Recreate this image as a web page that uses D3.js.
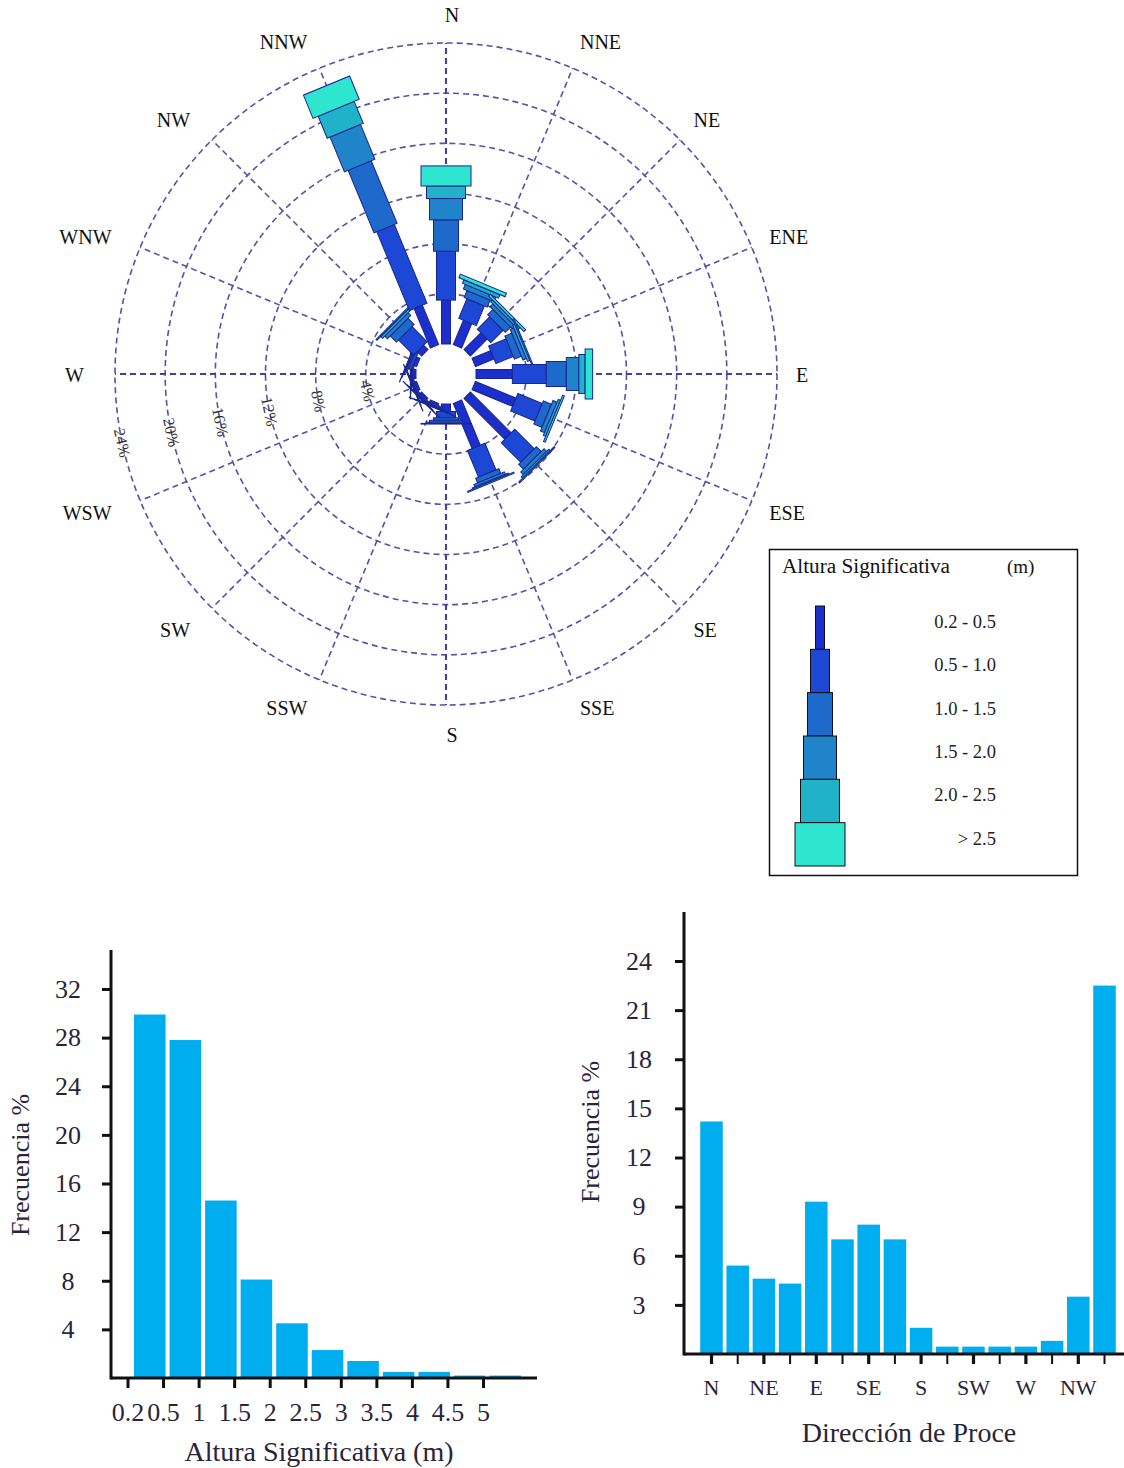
<!DOCTYPE html>
<html>
<head>
<meta charset="utf-8">
<script src="https://cdn.jsdelivr.net/npm/d3@7"></script>
<style>
  body { margin: 0; background: #fff; }
  svg { display: block; }
</style>
</head>
<body>
<svg id="chart" width="1124" height="1468"></svg>
<script>
// ---- data -------------------------------------------------------------
const directions = ["N","NNE","NE","ENE","E","ESE","SE","SSE","S","SSW","SW","WSW","W","WNW","NW","NNW"];
const heightClasses = ["0.2 - 0.5","0.5 - 1.0","1.0 - 1.5","1.5 - 2.0","2.0 - 2.5","> 2.5"];

// frequency (%) per direction for each significant-height class
const hs02to05 = [3.5, 2.1, 1.9, 1.6, 2.9, 3.5,  4.6,  3.9, 0.6,  0.17, 0.17, 0.17, 0.17, 0.30, 0.5, 3.4];
const hs05to10 = [3.9, 1.7, 1.4, 1.5, 2.7, 2.1,  2.2,  2.3, 0.5,  0.13, 0.13, 0.13, 0.13, 0.25, 1.7, 6.8];
const hs10to15 = [2.5, 0.6, 0.6, 0.6, 1.6, 0.7,  0.55, 0.4, 0.2,  0.07, 0.07, 0.07, 0.07, 0.12, 0.7, 5.4];
const hs15to20 = [1.7, 0.4, 0.3, 0.3, 1.0, 0.35, 0.3,  0.2, 0.15, 0.04, 0.04, 0.04, 0.04, 0.07, 0.3, 3.0];
const hs20to25 = [1.0, 0.3, 0.2, 0.2, 0.5, 0.2,  0.15, 0.1, 0.1,  0.02, 0.02, 0.02, 0.02, 0.04, 0.2, 1.9];
const hsOver25 = [1.6, 0.3, 0.2, 0.1, 0.6, 0.15, 0.1,  0.1, 0.05, 0.02, 0.02, 0.02, 0.02, 0.02, 0.1, 2.0];

const ringValues = [4, 8, 12, 16, 20, 24];

// histogram by significant height
const heightTicks = ["0.2","0.5","1","1.5","2","2.5","3","3.5","4","4.5","5"];
const heightFreq  = [29.9, 27.8, 14.6, 8.1, 4.5, 2.3, 1.4, 0.5, 0.5, 0.2, 0.2];
const heightYTicks = [4, 8, 12, 16, 20, 24, 28, 32];

// histogram by direction of origin
const dirFreq = [14.2, 5.4, 4.6, 4.3, 9.3, 7.0, 7.9, 7.0, 1.6, 0.45, 0.45, 0.45, 0.45, 0.8, 3.5, 22.5];
const dirLabels = ["N","NE","E","SE","S","SW","W","NW"];
const dirYTicks = [3, 6, 9, 12, 15, 18, 21, 24];

// ---- styling ----------------------------------------------------------
const classSeries = [hs02to05, hs05to10, hs10to15, hs15to20, hs20to25, hsOver25];
const classColors = ["#1c2fcc", "#1d48d6", "#1e6acb", "#1f84c9", "#1fb2c9", "#2ee6cf"];
const classWidths = [9, 19, 25, 33, 39, 50];
const serif = "'Liberation Serif', 'Times New Roman', serif";
const gridColor = "#5353a8";

const svg = d3.select("#chart");

// ---- wind rose --------------------------------------------------------
const cx = 446, cy = 374;
const r = d3.scaleLinear().domain([0, 24]).range([30, 331]);
const ang = d3.scaleLinear().domain([0, 16]).range([0, 360]);
const rad = a => a * Math.PI / 180;

const rose = svg.append("g").attr("transform", `translate(${cx},${cy})`);

// rings
rose.append("g").selectAll("circle").data(ringValues).join("circle")
  .attr("r", d => r(d))
  .attr("fill", "none")
  .attr("stroke", gridColor)
  .attr("stroke-width", 1.6)
  .attr("stroke-dasharray", "6,4");

// spokes
rose.append("g").selectAll("line").data(directions).join("line")
  .attr("x1", (d, i) => r(0) * Math.sin(rad(ang(i))))
  .attr("y1", (d, i) => -r(0) * Math.cos(rad(ang(i))))
  .attr("x2", (d, i) => r(24) * Math.sin(rad(ang(i))))
  .attr("y2", (d, i) => -r(24) * Math.cos(rad(ang(i))))
  .attr("stroke", (d, i) => i % 4 === 0 ? "#42429c" : gridColor)
  .attr("stroke-width", (d, i) => i % 4 === 0 ? 2.1 : 1.6)
  .attr("stroke-dasharray", "6,4");

// ring labels, set along a ray just below West
const ringAngle = 258;
rose.append("g").selectAll("text").data(ringValues).join("text")
  .attr("transform", d => `translate(${r(d) * Math.sin(rad(ringAngle))},${-r(d) * Math.cos(rad(ringAngle))}) rotate(78)`)
  .attr("text-anchor", "middle")
  .attr("dominant-baseline", "central")
  .attr("font-family", serif)
  .attr("font-size", 16)
  .attr("fill", "#333")
  .text(d => d + "%");

// stacked bars per direction
const stacks = directions.map((dir, i) => {
  let acc = 0;
  return classSeries.map((series, k) => {
    const start = acc; acc += series[i];
    return { dir, i, k, start, end: acc };
  });
});

const barGroups = rose.append("g").selectAll("g").data(stacks).join("g")
  .attr("transform", (d, i) => `rotate(${ang(i)})`);

barGroups.selectAll("rect").data(d => d).join("rect")
  .attr("x", d => -classWidths[d.k] / 2)
  .attr("y", d => -r(d.end))
  .attr("width", d => classWidths[d.k])
  .attr("height", d => r(d.end) - r(d.start))
  .attr("fill", d => classColors[d.k])
  .attr("stroke", "#1a2590")
  .attr("stroke-width", 1);

// central calm circle
rose.append("circle").attr("r", r(0) - 1).attr("fill", "#fff");

// compass labels
rose.append("g").selectAll("text").data(directions).join("text")
  .attr("x", (d, i) => {
    const s = Math.sin(rad(ang(i)));
    const rr = s > 0.01 ? 350 : (s < -0.01 ? 362 : 0);
    return rr * s + (Math.abs(s) < 0.01 ? 6 : 0);
  })
  .attr("y", (d, i) => 1 - 360 * Math.cos(rad(ang(i))))
  .attr("text-anchor", (d, i) => {
    const s = Math.sin(rad(ang(i)));
    return s > 0.01 ? "start" : (s < -0.01 ? "end" : "middle");
  })
  .attr("dominant-baseline", "central")
  .attr("font-family", serif)
  .attr("font-size", 20)
  .attr("fill", "#111")
  .text(d => d);

// ---- legend -----------------------------------------------------------
const legend = svg.append("g");
legend.append("rect")
  .attr("x", 769.5).attr("y", 549.5).attr("width", 308).attr("height", 326)
  .attr("fill", "#fff").attr("stroke", "#111").attr("stroke-width", 1.5);
legend.append("text").attr("x", 782).attr("y", 573)
  .attr("font-family", serif).attr("font-size", 20).attr("fill", "#111")
  .attr("textLength", 168).attr("lengthAdjust", "spacingAndGlyphs")
  .text("Altura Significativa");
legend.append("text").attr("x", 1007).attr("y", 573)
  .attr("font-family", serif).attr("font-size", 19).attr("fill", "#111")
  .text("(m)");

const legY = d3.scaleBand().domain(d3.range(heightClasses.length)).range([606, 866]).padding(0);
legend.selectAll("rect.seg").data(heightClasses).join("rect")
  .attr("class", "seg")
  .attr("x", (d, k) => 820 - classWidths[k] / 2)
  .attr("y", (d, k) => legY(k))
  .attr("width", (d, k) => classWidths[k])
  .attr("height", legY.bandwidth())
  .attr("fill", (d, k) => classColors[k])
  .attr("stroke", "#111")
  .attr("stroke-width", 1);
legend.selectAll("text.lab").data(heightClasses).join("text")
  .attr("class", "lab")
  .attr("x", 996)
  .attr("y", (d, k) => legY(k) + 16)
  .attr("text-anchor", "end")
  .attr("dominant-baseline", "central")
  .attr("font-family", serif).attr("font-size", 18.5).attr("fill", "#222")
  .text(d => d);

// ---- helpers for the two histograms ------------------------------------
const barFill = "#00adee";
const inkColor = "#2a2438";
function styleAxis(g) {
  g.select(".domain").remove();
  g.selectAll(".tick line").attr("stroke", "#111").attr("stroke-width", 3);
  g.selectAll(".tick text").attr("font-family", serif).attr("font-size", 26).attr("fill", inkColor);
}

// ---- histogram by significant height -----------------------------------
{
  const x0 = 111, y0 = 1378;
  const y = d3.scaleLinear().domain([0, 32]).range([y0, 989]);
  const edge = d3.scaleLinear().domain([0, heightTicks.length]).range([127.5, 127.5 + 35.55 * heightTicks.length]);
  const g = svg.append("g");

  g.selectAll("rect").data(heightFreq).join("rect")
    .attr("x", (d, i) => edge(i) + 6.5)
    .attr("width", (d, i) => edge(i + 1) - edge(i) - 4)
    .attr("y", d => y(d))
    .attr("height", d => y(0) - y(d))
    .attr("fill", barFill);

  const ya = g.append("g").attr("transform", `translate(${x0},0)`)
    .call(d3.axisLeft(y).tickValues(heightYTicks).tickSize(9).tickFormat(d3.format("d")));
  styleAxis(ya);
  ya.selectAll(".tick text").attr("x", -43).attr("text-anchor", "middle");

  const xa = g.append("g").attr("transform", `translate(0,${y0})`)
    .call(d3.axisBottom(edge).tickValues(d3.range(heightTicks.length)).tickSize(10).tickPadding(15).tickFormat(i => heightTicks[i]));
  styleAxis(xa);

  g.append("line").attr("x1", x0).attr("x2", x0).attr("y1", 950).attr("y2", y0 + 1.5)
    .attr("stroke", "#111").attr("stroke-width", 3);
  g.append("line").attr("x1", x0).attr("x2", 537).attr("y1", y0).attr("y2", y0)
    .attr("stroke", "#111").attr("stroke-width", 3);

  g.append("text").attr("x", 319).attr("y", 1451)
    .attr("text-anchor", "middle").attr("dominant-baseline", "central")
    .attr("font-family", serif).attr("font-size", 28).attr("fill", inkColor)
    .text("Altura Significativa (m)");
  g.append("text").attr("transform", "translate(20,1165) rotate(-90)")
    .attr("text-anchor", "middle").attr("dominant-baseline", "central")
    .attr("font-family", serif).attr("font-size", 26).attr("fill", inkColor)
    .text("Frecuencia %");
}

// ---- histogram by direction of origin ----------------------------------
{
  const x0 = 684, y0 = 1354;
  const y = d3.scaleLinear().domain([0, 24]).range([y0, 961]);
  const x = d3.scaleBand().domain(directions).range([698.4, 1117.6]).paddingInner(0.14).paddingOuter(0.07);
  const g = svg.append("g");

  g.selectAll("rect").data(dirFreq).join("rect")
    .attr("x", (d, i) => x(directions[i]))
    .attr("width", x.bandwidth())
    .attr("y", d => y(d))
    .attr("height", d => y(0) - y(d))
    .attr("fill", barFill);

  const ya = g.append("g").attr("transform", `translate(${x0},0)`)
    .call(d3.axisLeft(y).tickValues(dirYTicks).tickSize(9).tickFormat(d3.format("d")));
  styleAxis(ya);
  ya.selectAll(".tick text").attr("x", -45).attr("text-anchor", "middle");

  const xa = g.append("g").attr("transform", `translate(0,${y0})`)
    .call(d3.axisBottom(x).tickSize(10).tickPadding(15).tickFormat(d => dirLabels.includes(d) ? d : ""));
  styleAxis(xa);
  xa.selectAll(".tick text").attr("font-size", 22);
  xa.selectAll(".tick line").attr("stroke-width", (d, i) => i % 2 === 0 ? 3.2 : 2);

  g.append("line").attr("x1", x0).attr("x2", x0).attr("y1", 912).attr("y2", y0 + 1.5)
    .attr("stroke", "#111").attr("stroke-width", 3);
  g.append("line").attr("x1", x0).attr("x2", 1124).attr("y1", y0).attr("y2", y0)
    .attr("stroke", "#111").attr("stroke-width", 3);

  g.append("text").attr("x", 909).attr("y", 1432)
    .attr("text-anchor", "middle").attr("dominant-baseline", "central")
    .attr("font-family", serif).attr("font-size", 28).attr("fill", inkColor)
    .text("Dirección de Proce");
  g.append("text").attr("transform", "translate(590,1132) rotate(-90)")
    .attr("text-anchor", "middle").attr("dominant-baseline", "central")
    .attr("font-family", serif).attr("font-size", 26).attr("fill", inkColor)
    .text("Frecuencia %");
}
</script>
</body>
</html>
